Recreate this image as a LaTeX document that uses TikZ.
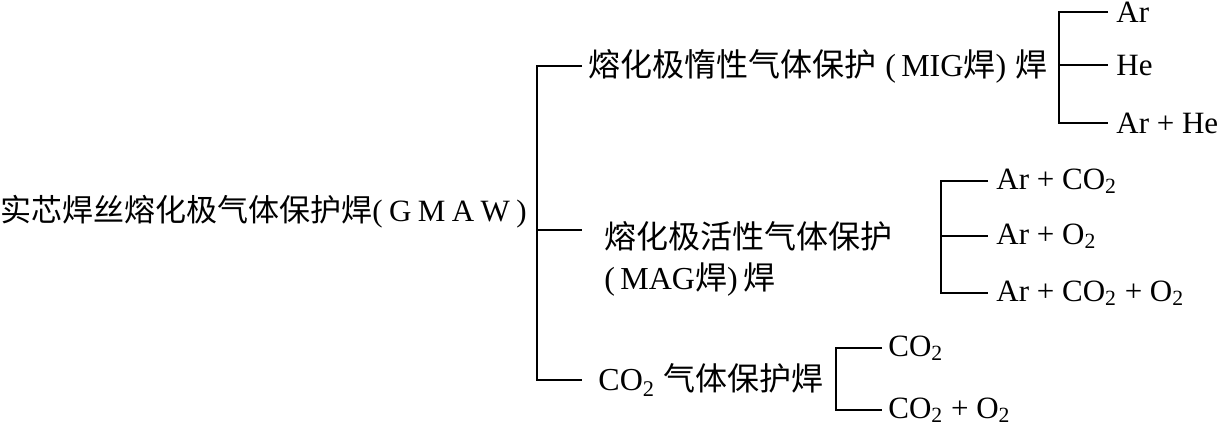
\documentclass[tikz,border=0pt]{standalone}
\usepackage{fontspec}
\setmainfont{Liberation Serif}
\newfontfamily\zhfont{Noto Sans CJK SC}
\newcommand{\zh}[1]{{\zhfont #1}}
\usepackage{tikz}

\tikzset{
  txt/.style={anchor=west, inner ysep=0pt, inner xsep=0pt,
              font=\fontsize{16pt}{20.5pt}\selectfont},
  leaf/.style={txt, inner xsep=4pt, font=\fontsize{15.5pt}{17.5pt}\selectfont},
  branch/.style={line width=1pt}
}

\begin{document}
\begin{tikzpicture}[x=0.5pt, y=-0.5pt]
  \useasboundingbox (0,0) rectangle (1218,425);
  % Root
  \node[txt, font=\fontsize{15.5pt}{17.5pt}\selectfont] (root) at (0,212)
       {\zh{实芯焊丝熔化极气体保护焊}(\kern3.2pt G\kern3.2pt M\kern3.2pt A\kern3.2pt W\kern3.2pt)};
  % Second level
  \node[txt, inner xsep=3pt] (mig) at (582,66) {\zh{熔化极惰性气体保护}\;(\,MIG\zh{焊})\;\zh{焊}};
  \node[txt, align=left, inner xsep=11pt] (mag) at (582,259)
       {\zh{熔化极活性气体保护}\\(\,MAG\zh{焊})\,\zh{焊}};
  \node[txt, inner xsep=8pt] (co2) at (582,380) {CO\textsubscript{2}\;\zh{气体保护焊}};
  \coordinate (bus) at (537,230);
  \draw[branch] (mig.west) -| (bus) |- (co2.west);
  \draw[branch] (bus) -- (bus -| mag.west);
  % MIG gases
  \node[leaf] (ar)   at (1108,12)  {Ar};
  \node[leaf] (he)   at (1108,65)  {He};
  \node[leaf] (arhe) at (1108,123) {Ar + He};
  \coordinate (migbus) at (1059,65);
  \draw[branch] (ar.west) -| (migbus) |- (arhe.west);
  \draw[branch] (migbus) -- (he.west);
  % MAG gases
  \node[leaf] (arco)  at (988,181) {Ar + CO\textsubscript{2}};
  \node[leaf] (aro)   at (988,236) {Ar + O\textsubscript{2}};
  \node[leaf] (arcoo) at (988,293) {Ar + CO\textsubscript{2} + O\textsubscript{2}};
  \coordinate (magbus) at (941,236);
  \draw[branch] (arco.west) -| (magbus) |- (arcoo.west);
  \draw[branch] (magbus) -- (aro.west);
  % CO2 gases
  \node[leaf, inner xsep=3pt] (co)  at (882,348) {CO\textsubscript{2}};
  \node[leaf, inner xsep=3pt] (coo) at (882,410) {CO\textsubscript{2} + O\textsubscript{2}};
  \coordinate (cobus) at (836,380);
  \draw[branch] (co.west) -| (cobus) |- (coo.west);
\end{tikzpicture}
\end{document}
